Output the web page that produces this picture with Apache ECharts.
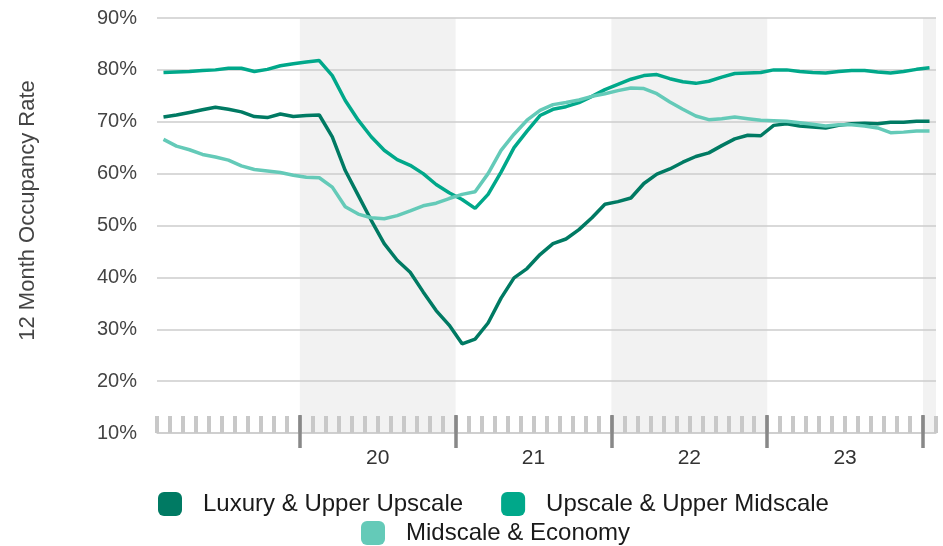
<!DOCTYPE html>
<html>
<head>
<meta charset="utf-8">
<script src="https://cdn.jsdelivr.net/npm/echarts@6/dist/echarts.min.js"></script>
<style>
html,body{margin:0;padding:0;background:#fff;}
#chart{width:943px;height:546px;}
</style>
</head>
<body>
<div id="chart"></div>
<script>
// Months: Feb 2019 .. Jan 2024 (60 monthly points)
const months = [
  '2019-02','2019-03','2019-04','2019-05','2019-06','2019-07','2019-08','2019-09','2019-10','2019-11','2019-12',
  '2020-01','2020-02','2020-03','2020-04','2020-05','2020-06','2020-07','2020-08','2020-09','2020-10','2020-11','2020-12',
  '2021-01','2021-02','2021-03','2021-04','2021-05','2021-06','2021-07','2021-08','2021-09','2021-10','2021-11','2021-12',
  '2022-01','2022-02','2022-03','2022-04','2022-05','2022-06','2022-07','2022-08','2022-09','2022-10','2022-11','2022-12',
  '2023-01','2023-02','2023-03','2023-04','2023-05','2023-06','2023-07','2023-08','2023-09','2023-10','2023-11','2023-12',
  '2024-01'
];

const luxury = [
  70.9,71.3,71.8,72.3,72.8,72.4,71.9,71.0,70.8,71.5,71.0,
  71.2,71.3,67.1,60.6,55.8,51.0,46.5,43.3,41.0,37.2,33.6,30.8,
  27.2,28.1,31.2,36.0,39.9,41.7,44.4,46.5,47.4,49.2,51.5,54.1,
  54.6,55.3,58.1,59.9,60.9,62.2,63.3,64.0,65.4,66.7,67.4,67.3,
  69.3,69.6,69.2,69.0,68.8,69.3,69.6,69.7,69.6,69.9,69.9,70.1,
  70.1
];

const upscale = [
  79.5,79.6,79.7,79.9,80.0,80.3,80.3,79.7,80.1,80.8,81.2,
  81.5,81.8,78.9,74.1,70.3,67.1,64.5,62.7,61.6,60.0,57.9,56.3,
  55.0,53.3,56.0,60.3,65.0,68.2,71.2,72.4,72.9,73.7,74.9,76.2,
  77.2,78.2,78.9,79.1,78.3,77.7,77.4,77.8,78.6,79.3,79.4,79.5,
  80.0,80.0,79.7,79.5,79.4,79.7,79.9,79.9,79.6,79.4,79.7,80.1,
  80.4
];

const midscale = [
  66.6,65.3,64.6,63.7,63.2,62.6,61.5,60.8,60.5,60.2,59.7,
  59.3,59.2,57.4,53.6,52.2,51.5,51.3,51.9,52.8,53.8,54.3,55.2,
  56.0,56.5,60.0,64.5,67.6,70.3,72.2,73.3,73.7,74.2,74.9,75.4,
  76.0,76.5,76.4,75.4,73.8,72.4,71.1,70.4,70.6,70.9,70.6,70.3,
  70.2,70.1,69.8,69.5,69.2,69.4,69.4,69.2,68.8,67.9,68.0,68.2,
  68.2
];

const seriesNames = ['Luxury & Upper Upscale','Upscale & Upper Midscale','Midscale & Economy'];
const seriesColors = ['#007a63','#00a88a','#64cab8'];

// Year boundaries (index of January in the month list) and year labels
const yearStarts = [11, 23, 35, 47, 59];
const yearLabelPos = [17, 29, 41, 53];
const yearLabels = ['20', '21', '22', '23'];
// Shaded years: [startIndex, endIndex)
const shadedYears = [[11, 23], [35, 47], [59, 60]];

const FONT = 'Liberation Sans, Arial, Helvetica, sans-serif';

const chart = echarts.init(document.getElementById('chart'), null, {renderer: 'canvas'});

const lineSeries = [luxury, upscale, midscale].map((d, i) => ({
  name: seriesNames[i],
  type: 'line',
  xAxisIndex: 0,
  yAxisIndex: 0,
  data: d,
  symbol: 'none',
  smooth: false,
  z: 3,
  itemStyle: {color: seriesColors[i]},
  lineStyle: {color: seriesColors[i], width: 3.5}
}));

const legendText = {fontSize: 24, color: '#1a1a1a', fontFamily: FONT, padding: [0, 0, 0, 16]};

const option = {
  backgroundColor: '#ffffff',
  animation: false,
  textStyle: {fontFamily: FONT},
  grid: {left: 157, right: 7, top: 18, bottom: 113, containLabel: false},
  legend: [
    {
      data: [seriesNames[0], seriesNames[1]],
      left: 158, top: 492, padding: 0,
      itemWidth: 24, itemHeight: 24, itemGap: 38,
      icon: 'roundRect',
      textStyle: legendText
    },
    {
      data: [seriesNames[2]],
      left: 361, top: 521, padding: 0,
      itemWidth: 24, itemHeight: 24,
      icon: 'roundRect',
      textStyle: legendText
    }
  ],
  xAxis: [
    {
      type: 'category',
      data: months,
      boundaryGap: true,
      z: 5,
      axisLine: {show: true, lineStyle: {color: '#cccccc', width: 1.5}},
      axisTick: {show: true, interval: 0, inside: true, length: 17, lineStyle: {color: '#c8c8c8', width: 4}},
      axisLabel: {show: false},
      splitLine: {show: false}
    },
    {
      type: 'value',
      min: 0, max: 60,
      position: 'bottom',
      offset: -18,
      z: 6,
      axisLine: {show: false},
      axisTick: {show: true, inside: false, length: 33, customValues: yearStarts, lineStyle: {color: '#888888', width: 3.5}},
      axisLabel: {
        show: true, customValues: yearLabelPos, margin: 33,
        fontSize: 21, color: '#333333', fontFamily: FONT,
        formatter: v => yearLabels[yearLabelPos.indexOf(v)] || ''
      },
      splitLine: {show: false}
    }
  ],
  yAxis: {
    type: 'value',
    min: 10, max: 90, interval: 10,
    name: '12 Month Occupancy Rate',
    nameLocation: 'middle',
    nameGap: 118,
    nameTextStyle: {fontSize: 22, color: '#444444', fontFamily: FONT, padding: [0, 0, 0, 30]},
    axisLine: {show: false},
    axisTick: {show: false},
    axisLabel: {formatter: '{value}%', fontSize: 20, color: '#444444', margin: 20, fontFamily: FONT},
    splitLine: {show: true, lineStyle: {color: '#cccccc', width: 1.5}}
  },
  series: [
    {
      name: 'shade',
      type: 'line',
      xAxisIndex: 1,
      yAxisIndex: 0,
      data: [],
      silent: true,
      z: -1,
      zlevel: 0,
      markArea: {
        silent: true,
        z: -1,
        itemStyle: {color: '#f2f2f2'},
        data: shadedYears.map(r => [{xAxis: r[0]}, {xAxis: r[1]}])
      }
    }
  ].concat(lineSeries)
};

chart.setOption(option);
</script>
</body>
</html>
